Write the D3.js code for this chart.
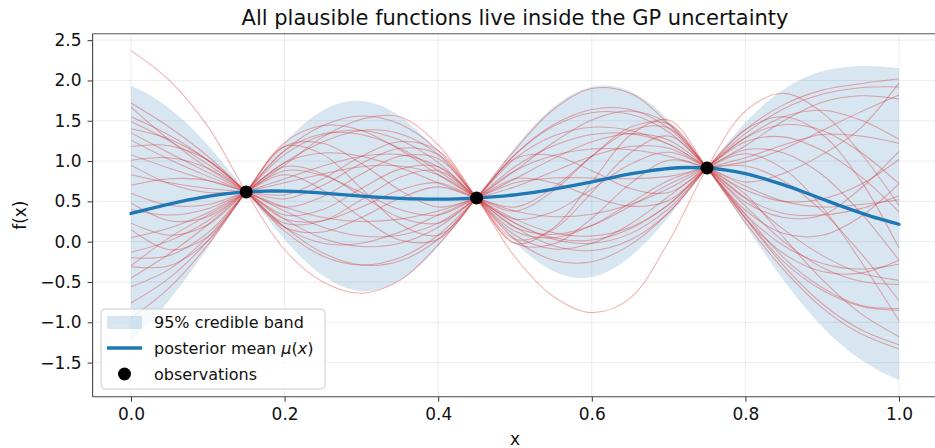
<!DOCTYPE html>
<html>
<head>
<meta charset="utf-8">
<script src="https://cdnjs.cloudflare.com/ajax/libs/d3/7.8.5/d3.min.js"></script>
<style>
  html, body { margin: 0; padding: 0; background: #fff; }
  svg { display: block; font-family: "DejaVu Sans", sans-serif; }
</style>
</head>
<body>
<div id="chart"></div>
<script>
// ---- data ----
const xTicks = [0.0, 0.2, 0.4, 0.6, 0.8, 1.0];
const yTicks = [-1.5, -1.0, -0.5, 0.0, 0.5, 1.0, 1.5, 2.0, 2.5];

const obsX = [0.15, 0.45, 0.75];
const obsY = [0.617, 0.542, 0.914];

// fine grid for band + mean
const bandX = [0, 0.025, 0.05, 0.075, 0.1, 0.125, 0.15, 0.175, 0.2, 0.225, 0.25, 0.275, 0.3, 0.325, 0.35, 0.375, 0.4,
  0.425, 0.45, 0.475, 0.5, 0.525, 0.55, 0.575, 0.6, 0.625, 0.65, 0.675, 0.7, 0.725, 0.75, 0.775, 0.8, 0.825, 0.85,
  0.875, 0.9, 0.925, 0.95, 0.975, 1.0];
const meanY = [0.350, 0.409, 0.467, 0.518, 0.562, 0.595, 0.617, 0.628, 0.627, 0.618, 0.603, 0.585, 0.566, 0.550, 0.538,
  0.530, 0.528, 0.532, 0.542, 0.559, 0.582, 0.613, 0.651, 0.695, 0.743, 0.792, 0.840, 0.879, 0.908, 0.920, 0.914,
  0.888, 0.843, 0.780, 0.704, 0.619, 0.530, 0.441, 0.358, 0.282, 0.216];
const bandUpper = [1.934, 1.815, 1.653, 1.446, 1.198, 0.917, 0.617, 0.941, 1.226, 1.461, 1.630, 1.727, 1.746, 1.688,
  1.557, 1.362, 1.116, 0.836, 0.542, 0.863, 1.170, 1.445, 1.670, 1.833, 1.923, 1.934, 1.867, 1.722, 1.507, 1.233,
  0.914, 1.210, 1.479, 1.708, 1.890, 2.025, 2.114, 2.161, 2.178, 2.172, 2.152];
const bandLower = [-1.234, -0.997, -0.719, -0.410, -0.074, 0.273, 0.617, 0.315, 0.028, -0.225, -0.424, -0.557, -0.614,
  -0.588, -0.481, -0.302, -0.060, 0.228, 0.542, 0.255, -0.006, -0.219, -0.368, -0.443, -0.437, -0.350, -0.187, 0.036,
  0.309, 0.607, 0.914, 0.566, 0.207, -0.148, -0.482, -0.787, -1.054, -1.279, -1.462, -1.608, -1.720];

// coarser grid for the sampled functions
const sampleX = [0, 0.05, 0.1, 0.15, 0.2, 0.25, 0.3, 0.35, 0.4, 0.45, 0.5, 0.55, 0.6, 0.65, 0.7, 0.75, 0.8, 0.85, 0.9, 0.95, 1.0];
const samples = [
  [1.72, 1.42, 1.06, 0.617, 0.13, -0.18, -0.29, -0.2, 0.08, 0.542, 1.03, 1.31, 1.42, 1.38, 1.21, 0.914, 0.54, 0.15, -0.17, -0.39, -0.48],
  [1.67, 1.26, 0.91, 0.617, 0.28, 0.26, 0.43, 0.64, 0.73, 0.542, 0.38, 0.63, 1.06, 1.42, 1.46, 0.914, 0.29, -0.3, -0.77, -1.09, -1.28],
  [1.49, 1.25, 0.96, 0.617, 0.23, 0.26, 0.52, 0.8, 0.88, 0.542, 0.23, 0.05, 0.02, 0.16, 0.46, 0.914, 1.29, 1.55, 1.63, 1.51, 1.27],
  [1.4, 1.27, 1.01, 0.617, 0.18, -0.14, -0.29, -0.24, 0.03, 0.542, 1.08, 1.45, 1.64, 1.64, 1.41, 0.914, 0.34, -0.2, -0.57, -0.79, -0.83],
  [1.35, 1.1, 0.86, 0.617, 0.33, 0.4, 0.66, 0.9, 0.93, 0.542, 0.18, 0.09, 0.2, 0.44, 0.71, 0.914, 1.04, 1.2, 1.33, 1.31, 1.22],
  [1.26, 1.02, 0.81, 0.617, 0.38, 0.18, 0.07, 0.08, 0.23, 0.542, 0.88, 1.07, 1.15, 1.14, 1.06, 0.914, 0.69, 0.5, 0.43, 0.46, 0.52],
  [1.18, 1.19, 1.01, 0.617, 0.18, 0.12, 0.3, 0.54, 0.68, 0.542, 0.43, 0.67, 1.06, 1.38, 1.41, 0.914, 0.34, -0.05, -0.27, -0.34, -0.28],
  [1.08, 0.91, 0.76, 0.617, 0.43, 0.56, 0.84, 1.06, 1.03, 0.542, 0.08, -0.09, -0.02, 0.22, 0.56, 0.914, 1.19, 1.5, 1.73, 1.81, 1.77],
  [1.01, 1.04, 0.91, 0.617, 0.28, 0.04, -0.06, -0.02, 0.18, 0.542, 0.93, 1.19, 1.33, 1.34, 1.21, 0.914, 0.54, 0.35, 0.33, 0.41, 0.57],
  [0.83, 0.73, 0.66, 0.617, 0.53, 0.7, 0.97, 1.16, 1.08, 0.542, 0.03, -0.23, -0.25, -0.04, 0.36, 0.914, 1.39, 1.7, 1.88, 1.96, 2.02],
  [0.7, 0.78, 0.76, 0.617, 0.43, 0.3, 0.25, 0.28, 0.38, 0.542, 0.73, 0.79, 0.79, 0.78, 0.81, 0.914, 0.94, 0.75, 0.38, -0.14, -0.73],
  [0.6, 0.45, 0.46, 0.617, 0.73, 0.84, 0.93, 0.94, 0.83, 0.542, 0.28, 0.37, 0.65, 0.96, 1.11, 0.914, 0.64, 0.5, 0.53, 0.71, 1.02],
  [0.48, 0.26, 0.31, 0.617, 0.88, 0.82, 0.61, 0.4, 0.33, 0.542, 0.78, 0.73, 0.56, 0.44, 0.51, 0.914, 1.24, 1.3, 1.13, 0.81, 0.37],
  [0.23, 0.08, 0.21, 0.617, 0.98, 1.24, 1.38, 1.34, 1.08, 0.542, 0.03, 0.15, 0.61, 1.1, 1.31, 0.914, 0.44, 0.0, -0.32, -0.49, -0.53],
  [0.15, -0.1, 0.06, 0.617, 1.13, 1.34, 1.33, 1.16, 0.88, 0.542, 0.23, 0.03, -0.02, 0.1, 0.41, 0.914, 1.34, 1.65, 1.83, 1.91, 1.92],
  [-0.13, 0.01, 0.26, 0.617, 0.93, 0.84, 0.57, 0.3, 0.23, 0.542, 0.88, 1.23, 1.51, 1.62, 1.46, 0.914, 0.29, -0.15, -0.37, -0.39, -0.23],
  [-0.2, -0.17, 0.11, 0.617, 1.08, 1.32, 1.38, 1.26, 0.98, 0.542, 0.13, 0.05, 0.2, 0.48, 0.76, 0.914, 0.99, 1.15, 1.38, 1.61, 1.82],
  [-0.31, -0.3, 0.01, 0.617, 1.18, 1.22, 0.97, 0.64, 0.43, 0.542, 0.68, 0.87, 1.06, 1.18, 1.16, 0.914, 0.59, 0.05, -0.47, -0.89, -1.18],
  [-0.56, -0.34, 0.06, 0.617, 1.13, 1.44, 1.56, 1.46, 1.13, 0.542, -0.02, 0.17, 0.74, 1.32, 1.51, 0.914, 0.24, -0.35, -0.82, -1.14, -1.33],
  [-0.76, -0.45, 0.01, 0.617, 1.18, 1.08, 0.66, 0.22, 0.08, 0.542, 1.03, 1.07, 0.88, 0.66, 0.61, 0.914, 1.14, 1.1, 0.83, 0.36, -0.23],
  [-0.95, -0.57, -0.04, 0.617, 1.23, 1.44, 1.38, 1.14, 0.83, 0.542, 0.28, 0.11, 0.07, 0.18, 0.46, 0.914, 1.29, 1.45, 1.38, 1.11, 0.72],
  [0.95, 0.72, 0.61, 0.617, 0.58, 0.78, 1.06, 1.24, 1.13, 0.542, -0.02, -0.03, 0.29, 0.72, 1.01, 0.914, 0.74, 0.85, 1.08, 1.41, 1.97],
  [0.4, 0.33, 0.41, 0.617, 0.78, 0.94, 1.06, 1.08, 0.93, 0.542, 0.18, -0.05, -0.11, 0.02, 0.36, 0.914, 1.39, 1.55, 1.33, 0.76, -0.08],
  [0.05, 0.17, 0.36, 0.617, 0.83, 0.64, 0.3, 0.02, 0.03, 0.542, 1.08, 1.43, 1.6, 1.58, 1.36, 0.914, 0.39, 0.1, 0.08, 0.31, 0.72],
  [-0.45, -0.15, 0.21, 0.617, 0.98, 1.1, 1.06, 0.92, 0.73, 0.542, 0.38, 0.31, 0.34, 0.46, 0.66, 0.914, 1.09, 0.9, 0.43, -0.24, -0.98],
  [1.55, 1.32, 1.01, 0.617, 0.18, -0.02, -0.02, 0.12, 0.33, 0.542, 0.78, 1.03, 1.24, 1.34, 1.26, 0.914, 0.49, 0.3, 0.33, 0.66, 1.12],
  [2.37, 2.0, 1.43, 0.617, -0.1, -0.5, -0.64, -0.48, -0.04, 0.542, 1.14, 1.64, 1.9, 1.84, 1.46, 0.914, 0.3, -0.25, -0.6, -0.8, -0.85],
  [-0.3, 0.05, 0.33, 0.617, 0.95, 1.3, 1.52, 1.55, 1.2, 0.542, -0.19, -0.68, -0.88, -0.7, 0.0, 0.914, 1.62, 1.84, 1.6, 1.1, 0.45]
];

const titleText = "All plausible functions live inside the GP uncertainty";
const legendLabels = ["95% credible band", "posterior mean", "observations"];

// ---- layout ----
const width = 935, height = 448;
const plot = { left: 92.6, right: 937.4, top: 33.7, bottom: 396.7 };
const blue = "#1f77b4", red = "#d62728";

const svg = d3.select("#chart").append("svg")
  .attr("width", width)
  .attr("height", height)
  .attr("viewBox", [0, 0, width, height]);

const x = d3.scaleLinear().domain([-0.05, 1.05]).range([plot.left, plot.right]);
const y = d3.scaleLinear().domain([-1.923, 2.58]).range([plot.bottom, plot.top]);

svg.append("defs").append("clipPath").attr("id", "clip")
  .append("rect")
  .attr("x", plot.left).attr("y", plot.top)
  .attr("width", plot.right - plot.left).attr("height", plot.bottom - plot.top);

// grid
const grid = svg.append("g").attr("class", "grid");
grid.selectAll(".gy").data(yTicks).join("line")
  .attr("x1", plot.left).attr("x2", plot.right)
  .attr("y1", d => y(d)).attr("y2", d => y(d))
  .attr("stroke", "#b0b0b0").attr("stroke-opacity", 0.3).attr("stroke-width", 0.8);
grid.selectAll(".gx").data(xTicks).join("line")
  .attr("y1", plot.top).attr("y2", plot.bottom)
  .attr("x1", d => x(d)).attr("x2", d => x(d))
  .attr("stroke", "#b0b0b0").attr("stroke-opacity", 0.3).attr("stroke-width", 0.8);

const body = svg.append("g").attr("clip-path", "url(#clip)");

// band: drawn piecewise between observations so it pinches sharply
const bandPts = bandX.map((v, i) => ({ x: v, lo: bandLower[i], hi: bandUpper[i] }));
const cuts = [0, ...obsX, 1.0];
const area = d3.area()
  .x(d => x(d.x)).y0(d => y(d.lo)).y1(d => y(d.hi))
  .curve(d3.curveCatmullRom);
for (let k = 0; k < cuts.length - 1; k++) {
  const seg = bandPts.filter(d => d.x >= cuts[k] - 1e-9 && d.x <= cuts[k + 1] + 1e-9);
  body.append("path").datum(seg)
    .attr("d", area)
    .attr("fill", blue).attr("fill-opacity", 0.18).attr("stroke", "none");
}

// sampled functions
const sampleLine = d3.line()
  .x((d, i) => x(sampleX[i])).y(d => y(d))
  .curve(d3.curveCatmullRom);
body.append("g").selectAll("path").data(samples).join("path")
  .attr("d", sampleLine)
  .attr("fill", "none")
  .attr("stroke", red).attr("stroke-opacity", 0.36).attr("stroke-width", 1.05);

// posterior mean
const meanLine = d3.line()
  .x((d, i) => x(bandX[i])).y(d => y(d))
  .curve(d3.curveCatmullRom);
body.append("path").datum(meanY)
  .attr("d", meanLine)
  .attr("fill", "none").attr("stroke", blue).attr("stroke-width", 3.3)
  .attr("stroke-linecap", "round");

// observations
svg.append("g").selectAll("circle").data(obsX).join("circle")
  .attr("cx", d => x(d)).attr("cy", (d, i) => y(obsY[i]))
  .attr("r", 6.5).attr("fill", "#000");

// axes
const fmt = d3.format(".1f");
const yAxis = svg.append("g")
  .attr("transform", `translate(${plot.left},0)`)
  .call(d3.axisLeft(y).tickValues(yTicks).tickFormat(fmt).tickSize(5).tickPadding(6));
const xAxis = svg.append("g")
  .attr("transform", `translate(0,${plot.bottom})`)
  .call(d3.axisBottom(x).tickValues(xTicks).tickFormat(fmt).tickSize(5).tickPadding(6));
[yAxis, xAxis].forEach(a => {
  a.select(".domain").remove();
  a.selectAll(".tick line").attr("stroke", "#333").attr("stroke-width", 1);
  a.selectAll(".tick text").attr("fill", "#111")
    .style("font-family", "'DejaVu Sans', sans-serif").style("font-size", "17px");
});

// spines
svg.append("line").attr("x1", plot.left).attr("x2", plot.left)
  .attr("y1", plot.top).attr("y2", plot.bottom).attr("stroke", "#444").attr("stroke-width", 1.1);
svg.append("line").attr("x1", plot.left).attr("x2", width)
  .attr("y1", plot.bottom).attr("y2", plot.bottom).attr("stroke", "#444").attr("stroke-width", 1.1);
svg.append("line").attr("x1", plot.left).attr("x2", width)
  .attr("y1", plot.top).attr("y2", plot.top).attr("stroke", "#555").attr("stroke-width", 1.1);

// labels
svg.append("text")
  .attr("x", (plot.left + plot.right) / 2).attr("y", 25)
  .attr("text-anchor", "middle").style("font-size", "21px").attr("fill", "#111")
  .text(titleText);
svg.append("text")
  .attr("x", (plot.left + plot.right) / 2).attr("y", 445)
  .attr("text-anchor", "middle").style("font-size", "17px").attr("fill", "#111")
  .text("x");
svg.append("text")
  .attr("transform", `translate(26,${(plot.top + plot.bottom) / 2}) rotate(-90)`)
  .attr("text-anchor", "middle").style("font-size", "17px").attr("fill", "#111")
  .text("f(x)");

// legend
const lg = svg.append("g").attr("transform", "translate(101,309)");
lg.append("rect")
  .attr("width", 224).attr("height", 80).attr("rx", 4)
  .attr("fill", "#fff").attr("fill-opacity", 0.8)
  .attr("stroke", "#ccc").attr("stroke-width", 1);
lg.append("rect")
  .attr("x", 6).attr("y", 7).attr("width", 35).attr("height", 13)
  .attr("fill", blue).attr("fill-opacity", 0.18);
lg.append("line")
  .attr("x1", 6).attr("x2", 41).attr("y1", 39).attr("y2", 39)
  .attr("stroke", blue).attr("stroke-width", 3.3);
lg.append("circle").attr("cx", 23.5).attr("cy", 65).attr("r", 6.5).attr("fill", "#000");

const lgText = lg.append("g").style("font-size", "16px").attr("fill", "#111");
lgText.append("text").attr("x", 53).attr("y", 19).text(legendLabels[0]);
const meanLabel = lgText.append("text").attr("x", 53).attr("y", 45);
meanLabel.append("tspan").text(legendLabels[1] + " ");
meanLabel.append("tspan").style("font-style", "italic").text("μ");
meanLabel.append("tspan").text("(");
meanLabel.append("tspan").style("font-style", "italic").text("x");
meanLabel.append("tspan").text(")");
lgText.append("text").attr("x", 53).attr("y", 71).text(legendLabels[2]);
</script>
</body>
</html>
